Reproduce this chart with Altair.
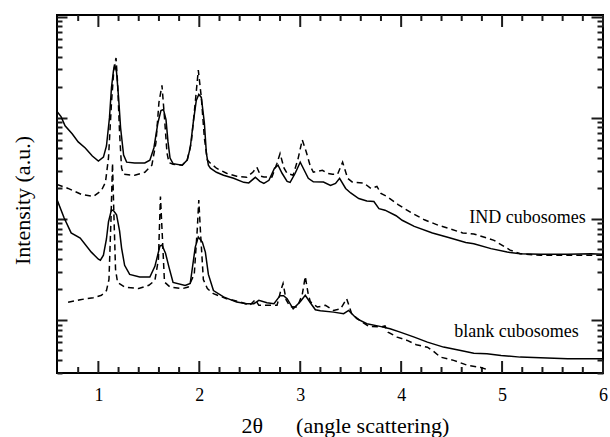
import altair as alt
import pandas as pd

# (2theta, log10 intensity)
ind_solid = [(0.59,2.06),(0.63,2.01),(0.67,1.92),(0.74,1.84),(0.80,1.76),(0.87,1.70),(0.94,1.62),(1.00,1.57),
             (1.05,1.61),(1.08,1.72),(1.11,2.00),(1.13,2.30),(1.15,2.47),(1.165,2.51),(1.18,2.45),(1.20,2.20),
             (1.22,1.90),(1.25,1.63),(1.28,1.56),(1.36,1.552),(1.46,1.552),(1.51,1.58),(1.55,1.70),(1.59,1.95),
             (1.62,2.07),(1.645,2.08),(1.67,1.98),(1.69,1.76),(1.71,1.60),(1.74,1.545),(1.83,1.53),(1.88,1.58),
             (1.91,1.70),(1.94,1.95),(1.97,2.17),(1.995,2.23),(2.02,2.20),(2.05,1.95),(2.07,1.65),(2.09,1.53),
             (2.11,1.50),(2.17,1.46),(2.24,1.43),(2.34,1.40),(2.44,1.36),(2.49,1.355),(2.555,1.41),(2.60,1.37),
             (2.64,1.35),(2.69,1.38),(2.745,1.50),(2.78,1.53),(2.82,1.45),(2.87,1.37),(2.90,1.36),(2.95,1.45),
             (3.00,1.56),(3.04,1.48),(3.08,1.40),(3.13,1.365),(3.23,1.364),(3.30,1.33),(3.35,1.35),(3.39,1.40),
             (3.45,1.30),(3.50,1.255),(3.58,1.20),(3.66,1.175),(3.73,1.17),(3.78,1.10),(3.84,1.085),(3.95,1.03),
             (4.01,0.985),(4.13,0.925),(4.31,0.86),(4.47,0.815),(4.64,0.765),(4.72,0.754),(4.89,0.705),
             (5.05,0.671),(5.18,0.655),(5.38,0.649),(5.65,0.649),(5.88,0.655),(6.0,0.649)]

ind_dashed = [(0.59,1.34),(0.70,1.30),(0.835,1.24),(0.95,1.22),(1.03,1.28),(1.07,1.36),(1.10,1.60),(1.13,2.15),
              (1.155,2.50),(1.175,2.59),(1.19,2.35),(1.21,1.85),(1.23,1.50),(1.25,1.44),(1.36,1.43),(1.46,1.46),
              (1.53,1.53),(1.57,1.75),(1.60,2.15),(1.63,2.32),(1.655,2.0),(1.68,1.65),(1.70,1.555),(1.74,1.54),
              (1.83,1.53),(1.88,1.58),(1.92,1.75),(1.96,2.15),(1.99,2.47),(2.02,2.2),(2.05,1.8),(2.08,1.58),
              (2.11,1.55),(2.17,1.50),(2.27,1.45),(2.37,1.42),(2.47,1.41),(2.53,1.46),(2.57,1.51),(2.61,1.42),
              (2.64,1.414),(2.72,1.414),(2.77,1.55),(2.80,1.645),(2.84,1.50),(2.87,1.45),(2.93,1.43),(2.98,1.60),
              (3.02,1.78),(3.06,1.66),(3.10,1.52),(3.13,1.46),(3.22,1.48),(3.27,1.45),(3.32,1.44),(3.37,1.44),
              (3.42,1.56),(3.47,1.40),(3.52,1.36),(3.63,1.354),(3.70,1.30),(3.76,1.32),(3.80,1.25),(3.86,1.22),
              (3.97,1.14),(4.10,1.06),(4.23,0.99),(4.37,0.935),(4.47,0.905),(4.61,0.86),(4.72,0.85),
              (4.92,0.787),(5.08,0.69),(5.18,0.655),(5.38,0.639),(5.65,0.639),(6.0,0.639)]

blank_solid = [(0.59,1.19),(0.66,1.01),(0.73,0.86),(0.82,0.81),(0.93,0.67),(1.00,0.60),(1.02,0.59),(1.05,0.64),
               (1.08,0.80),(1.10,0.97),(1.13,1.09),(1.155,1.075),(1.18,1.04),(1.21,0.88),(1.23,0.71),(1.26,0.54),
               (1.31,0.45),(1.41,0.424),(1.51,0.424),(1.56,0.53),(1.61,0.73),(1.63,0.74),(1.665,0.66),(1.70,0.52),
               (1.74,0.37),(1.86,0.34),(1.91,0.36),(1.96,0.72),(1.99,0.82),(2.03,0.77),(2.06,0.67),(2.09,0.45),
               (2.14,0.29),(2.24,0.227),(2.37,0.176),(2.47,0.16),(2.54,0.16),(2.59,0.193),(2.67,0.17),(2.74,0.16),
               (2.80,0.24),(2.835,0.24),(2.87,0.21),(2.93,0.11),(3.00,0.18),(3.05,0.243),(3.10,0.17),(3.15,0.10),
               (3.20,0.09),(3.33,0.077),(3.43,0.061),(3.48,0.094),(3.56,0.012),(3.66,-0.038),(3.79,-0.064),
               (3.89,-0.087),(3.99,-0.121),(4.13,-0.170),(4.26,-0.220),(4.42,-0.269),(4.59,-0.302),(4.72,-0.329),
               (4.85,-0.335),(4.99,-0.351),(5.18,-0.368),(5.38,-0.374),(5.65,-0.384),(6.0,-0.384)]

blank_dashed = [(0.70,0.175),(0.82,0.20),(0.95,0.22),(1.03,0.243),(1.08,0.29),(1.105,0.40),(1.125,1.00),
                (1.14,1.55),(1.155,1.00),(1.17,0.50),(1.19,0.37),(1.26,0.325),(1.40,0.31),(1.50,0.342),
                (1.56,0.39),(1.595,0.60),(1.615,1.22),(1.635,0.80),(1.655,0.374),(1.71,0.325),(1.83,0.309),
                (1.89,0.325),(1.95,0.45),(1.98,0.90),(1.995,1.185),(2.01,0.90),(2.04,0.40),(2.08,0.309),
                (2.14,0.259),(2.27,0.21),(2.41,0.176),(2.50,0.144),(2.555,0.20),(2.59,0.144),(2.77,0.144),
                (2.81,0.30),(2.83,0.36),(2.86,0.20),(2.90,0.13),(2.97,0.127),(3.02,0.25),(3.05,0.43),(3.08,0.25),
                (3.10,0.18),(3.17,0.127),(3.25,0.144),(3.33,0.094),(3.40,0.11),(3.46,0.21),(3.51,0.061),
                (3.59,-0.005),(3.68,-0.064),(3.80,-0.07),(3.84,-0.06),(3.87,-0.121),(3.96,-0.170),(4.06,-0.203),
                (4.15,-0.245),(4.26,-0.27),(4.32,-0.31),(4.39,-0.368),(4.52,-0.40),(4.66,-0.45),(4.79,-0.47),
                (4.85,-0.49)]

labels = ["IND cubosomes", "blank cubosomes"]
label_x = [5.83, 5.76]
label_logI = [0.958, -0.170]

major_x = [1, 2, 3, 4, 5, 6]
minor_x = [0.8, 1.2, 1.4, 1.6, 1.8, 2.2, 2.4, 2.6, 2.8, 3.2, 3.4, 3.6, 3.8,
           4.2, 4.4, 4.6, 4.8, 5.2, 5.4, 5.6, 5.8]
major_y = [1, 10, 100, 1000]
minor_y = [0.3, 0.4, 0.5, 0.6, 0.7, 0.8, 0.9, 2, 3, 4, 5, 6, 7, 8, 9,
           20, 30, 40, 50, 60, 70, 80, 90, 200, 300, 400, 500, 600, 700, 800, 900]

rows = []
for sample, style, pts in [("IND", "solid", ind_solid), ("IND", "dashed", ind_dashed),
                           ("blank", "solid", blank_solid), ("blank", "dashed", blank_dashed)]:
    for x, L in pts:
        rows.append({"sample": sample, "style": style, "series": sample + style, "x": x, "I": 10 ** L})
df = pd.DataFrame(rows)
lab_df = pd.DataFrame({"label": labels, "x": label_x, "I": [10 ** v for v in label_logI]})
xmaj_df = pd.DataFrame({"v": major_x})
xmin_df = pd.DataFrame({"v": minor_x})

W, H = 546, 358
FONT = "Liberation Serif, Times New Roman, serif"
TICK = "#1c1c1c"
xscale = alt.Scale(domain=[0.59, 6.0], nice=False, zero=False)
yscale = alt.Scale(type="log", domain=[10 ** -0.525, 10 ** 3.015], nice=False)


def y_tick_axis(orient, values, size):
    # inward ticks: an axis of the opposite side moved across the plot
    return alt.Axis(orient=orient, values=values, tickSize=size, offset=-W, labels=False,
                    domain=False, grid=False, ticks=True, tickColor=TICK, tickWidth=2, title="")


def x_ticks(data, y0, y1):
    return alt.Chart(data).mark_rule(color=TICK, strokeWidth=2).encode(
        x=alt.X("v:Q", scale=xscale, axis=None),
        y=alt.value(y0), y2=alt.value(y1),
    )


xt_bottom_major = x_ticks(xmaj_df, H, H - 12)
xt_bottom_minor = x_ticks(xmin_df, H, H - 6)
xt_top_major = x_ticks(xmaj_df, 0, 12)
xt_top_minor = x_ticks(xmin_df, 0, 6)

solid = alt.Chart(df[df["style"] == "solid"]).mark_line(color="black", strokeWidth=1.5, clip=True).encode(
    x=alt.X("x:Q", scale=xscale, axis=alt.Axis(
        orient="bottom", values=major_x, ticks=False, domain=False, grid=False, labels=True,
        labelFont=FONT, labelFontSize=18, labelColor="black", labelPadding=13, labelFlush=False,
        title="2θ\u2003\u2002(angle scattering)", titleFont=FONT, titleFontSize=22,
        titleFontWeight="normal", titleColor="black", titleX=288, titleY=59,
        titleBaseline="alphabetic", titleAlign="center")),
    y=alt.Y("I:Q", scale=yscale, axis=alt.Axis(
        orient="left", ticks=False, labels=False, domain=False, grid=False,
        title="Intensity (a.u.)", titleFont=FONT, titleFontSize=22, titleFontWeight="normal",
        titleColor="black", titleX=-35, titleY=185, titleAngle=270, titleBaseline="middle",
        titleAlign="center")),
    detail="series:N",
)

dashed = alt.Chart(df[df["style"] == "dashed"]).mark_line(
    color="black", strokeWidth=1.5, strokeDash=[6, 4], clip=True).encode(
    x=alt.X("x:Q", scale=xscale, axis=None),
    y=alt.Y("I:Q", scale=yscale, axis=y_tick_axis("right", major_y, 10)),
    detail="series:N",
)


def ghost(orient, values, size):
    return alt.Chart(df).mark_line(strokeOpacity=0).encode(
        x=alt.X("x:Q", scale=xscale, axis=None),
        y=alt.Y("I:Q", scale=yscale, axis=y_tick_axis(orient, values, size)),
        detail="series:N",
    )


ghost1 = ghost("right", minor_y, 5)
ghost2 = ghost("left", major_y, 12)
ghost3 = ghost("left", minor_y, 6)

text = alt.Chart(lab_df).mark_text(align="right", baseline="alphabetic", font=FONT,
                                   fontSize=18, color="black").encode(
    x=alt.X("x:Q", scale=xscale, axis=None),
    y=alt.Y("I:Q", scale=yscale, axis=None),
    text="label:N",
)

chart = alt.layer(xt_bottom_major, xt_bottom_minor, xt_top_major, xt_top_minor,
                  solid, dashed, ghost1, ghost2, ghost3, text).resolve_axis(
    x="independent", y="independent"
).properties(
    width=W, height=H,
    autosize=alt.AutoSizeParams(type="none"),
    padding={"left": 57, "top": 15, "right": 7, "bottom": 64},
    background="white",
).configure_view(stroke="black", strokeWidth=2)

chart.save("out.html", embed_options={"renderer": "svg", "actions": False})
